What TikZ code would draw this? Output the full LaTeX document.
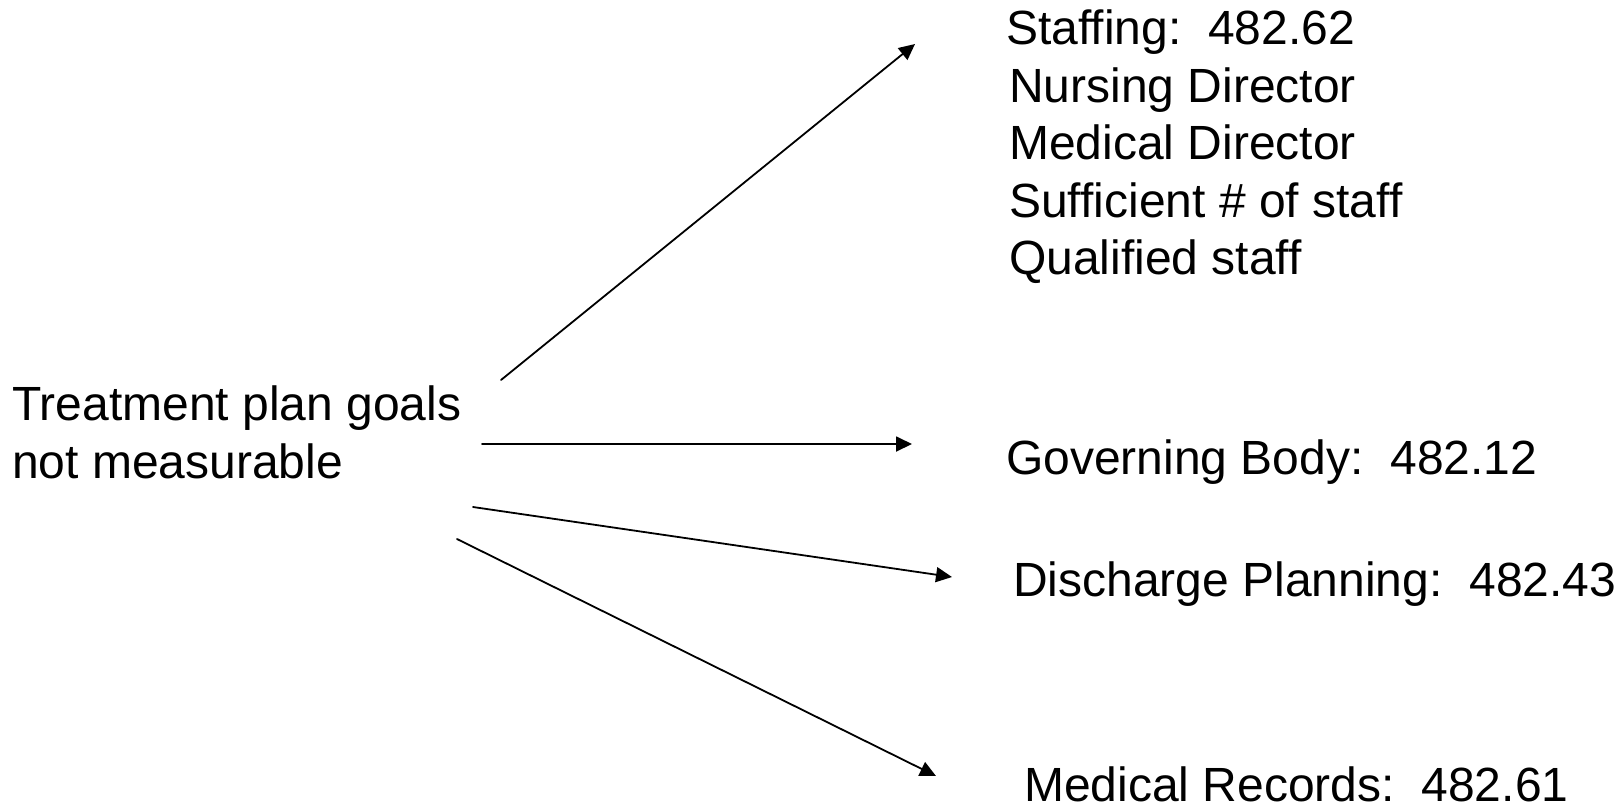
\documentclass[tikz,border=0pt]{standalone}
\usepackage{fontspec}
\setmainfont{Liberation Sans}
\usetikzlibrary{arrows.meta}

\begin{document}
\begin{tikzpicture}[line cap=round,line join=round,>={Triangle[length=16pt,width=15pt]},x=1pt,y=-1pt,
  txt/.style={inner sep=0pt,anchor=north west,align=left,
    font=\fontsize{48}{57.5}\selectfont},
  link/.style={->,line width=1.8pt}]
\useasboundingbox (0,0) rectangle (1622,807);

% lahtokohta vasemmalla
\node[txt] (goals) at (12,386) {Treatment plan goals\\not measurable};

% kohteet oikealla
\node[txt] (staff) at (1006,10) {Staffing:\ \ 482.62\\
 \hspace*{3pt}Nursing Director\\
 \hspace*{3pt}Medical Director\\
 \hspace*{3pt}Sufficient \# of staff\\
 \hspace*{3pt}Qualified staff};
\node[txt] (gov) at (1006,440) {Governing Body:\ \ 482.12};
\node[txt] (dis) at (1013,562) {Discharge Planning:\ \ 482.43};
\node[txt] (rec) at (1024,767) {Medical Records:\ \ 482.61};

% nuolten alku- ja loppupisteet
\coordinate (s1) at (501,380);  \coordinate (e1) at (915,44);
\coordinate (s2) at (482,444);  \coordinate (e2) at (912,444);
\coordinate (s3) at (473,507);  \coordinate (e3) at (952,577);
\coordinate (s4) at (457,539);  \coordinate (e4) at (936,776);

\draw[link] (s1) -- (e1);
\draw[link] (s2) -- (e2);
\draw[link] (s3) -- (e3);
\draw[link] (s4) -- (e4);
\end{tikzpicture}
\end{document}
